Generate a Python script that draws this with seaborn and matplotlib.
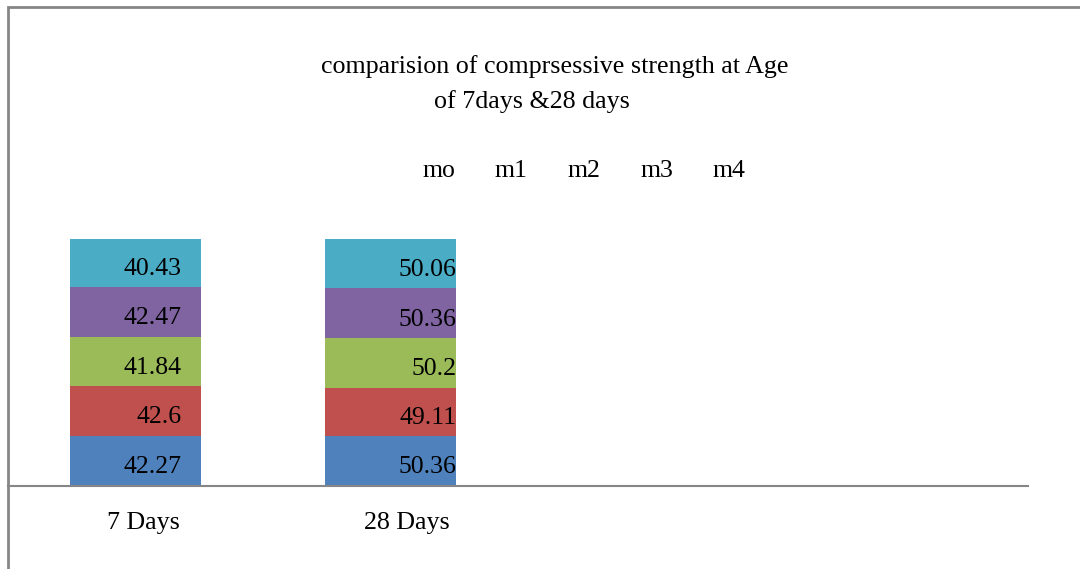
import matplotlib
matplotlib.use("Agg")
import matplotlib.pyplot as plt
import matplotlib.transforms as mtransforms
import seaborn as sns
import numpy as np
from matplotlib.patches import Rectangle

categories = ["7 Days", "28 Days"]
series_names = ["mo", "m1", "m2", "m3", "m4"]
mo = [42.27, 50.36]
m1 = [42.6, 49.11]
m2 = [41.84, 50.2]
m3 = [42.47, 50.36]
m4 = [40.43, 50.06]
series_values = [mo, m1, m2, m3, m4]
colors = ["#4F81BD", "#C0504D", "#9BBB59", "#8064A2", "#4BACC6"]
title_line1 = "comparision of comprsessive strength at Age"
title_line2 = "of 7days &28 days"

sns.set_style("white")
plt.rcParams["font.family"] = ["Liberation Serif", "DejaVu Serif"]
plt.rcParams["text.color"] = "black"

W, H = 1080, 569
fig = plt.figure(figsize=(W / 100, H / 100), dpi=100)
ax = fig.add_axes([8 / W, (H - 486) / H, (1028 - 8) / W, (486 - 239) / H])

vals = np.array(series_values, dtype=float)
totals = vals.sum(axis=0)
pct = vals / totals
bottoms = np.zeros(len(categories))
for name, p, raw, c in zip(series_names, pct, vals, colors):
    sns.barplot(x=categories, y=p, bottom=bottoms, color=c, saturation=1,
                width=0.514, ax=ax, label=name, linewidth=0)
    for i in range(len(categories)):
        off = 0.18 if i == 0 else 0.257
        ax.annotate(f"{raw[i]:g}", (i + off, bottoms[i] + p[i] / 2),
                    xytext=(0, -4.5), textcoords="offset points",
                    ha="right", va="center", fontsize=18.5, color="black")
    bottoms = bottoms + p

ax.set_xlim(-0.5, 3.5)
ax.set_ylim(0, 1)
ax.set_yticks([])
ax.set_xlabel("")
ax.set_ylabel("")
for s in ["top", "right", "left"]:
    ax.spines[s].set_visible(False)
ax.spines["bottom"].set_color("#868686")
ax.spines["bottom"].set_linewidth(1.5)
ax.tick_params(axis="x", length=0, pad=19, labelsize=18.7, colors="black")
shifts = [8, 16]
for t, dx in zip(ax.get_xticklabels(), shifts):
    t.set_transform(t.get_transform() +
                    mtransforms.ScaledTranslation(dx / 100, 0, fig.dpi_scale_trans))

leg = ax.legend(loc="center", bbox_to_anchor=(584 / W, 1 - 171 / H),
                bbox_transform=fig.transFigure, ncol=5, frameon=False,
                handlelength=0, handletextpad=0, columnspacing=1.55,
                fontsize=18.5)
for h in leg.legend_handles:
    h.set_visible(False)
for t in leg.get_texts():
    t.set_color("black")

fig.text(555 / W, 1 - 67 / H, title_line1, ha="center", va="center",
         fontsize=18.7, color="black")
fig.text(532 / W, 1 - 102 / H, title_line2, ha="center", va="center",
         fontsize=18.7, color="black")

fig.patches.append(Rectangle((8 / W, -0.5), 2, 1 - 7 / H + 0.5,
                             transform=fig.transFigure, fill=False,
                             edgecolor="#868686", linewidth=2, figure=fig))

fig.savefig("out.png", dpi=100, facecolor="white")
